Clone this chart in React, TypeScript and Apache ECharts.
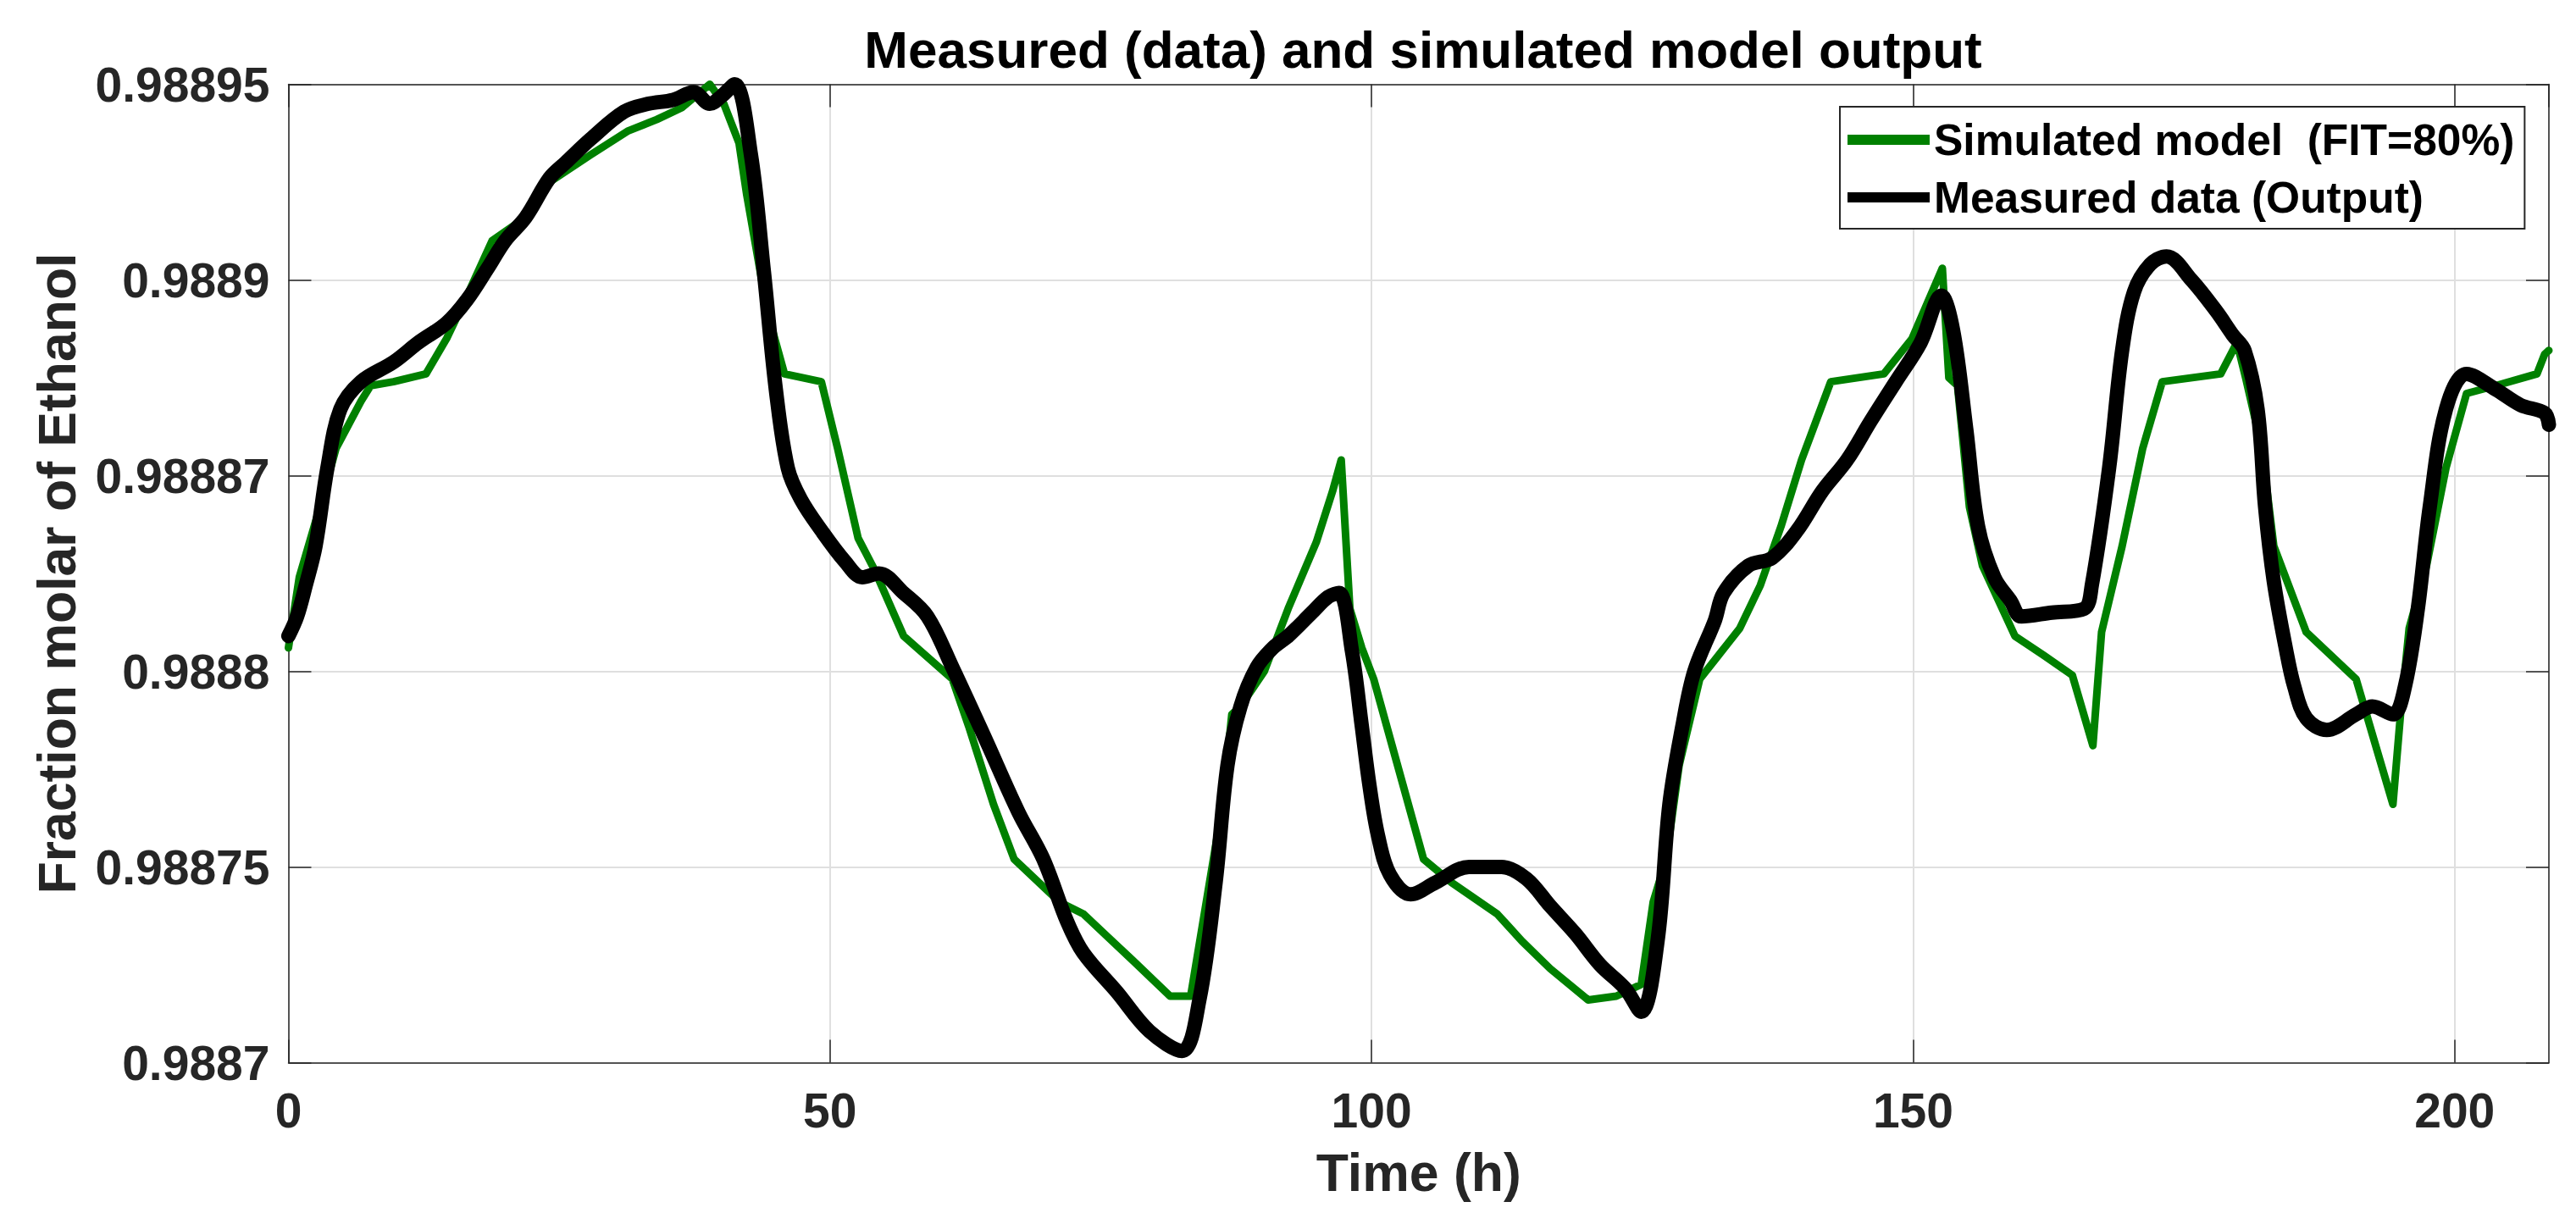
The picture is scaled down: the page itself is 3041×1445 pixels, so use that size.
import React, { useEffect, useRef } from "react";
import * as echarts from "echarts";

// Measured data (Output): time (h) and molar fraction
const measuredTime = [
  0, 0.8, 1.6, 2.5, 3.6, 4.8, 6.7, 9.7, 12.0, 14.6, 16.5, 18.4, 20.0, 21.9, 24.1, 25.6, 27.9, 31.0, 33.2,
  35.5, 37.4, 38.9, 40.0, 41.2, 42.7, 43.9, 45.0, 46.1, 47.3, 49.2, 51.4, 53.0, 54.5, 56.8, 59.0, 61.3,
  64.3, 67.4, 69.7, 71.9, 73.4, 76.5, 79.5, 82.5, 84.1, 85.6, 86.7, 87.9, 89.4, 90.9, 92.3, 94.5, 96.0,
  97.0, 98.2, 99.1, 99.8, 100.6, 101.7, 103.6, 105.9, 109.0, 112.0, 114.3, 116.5, 118.8, 121.1, 123.4,
  124.9, 126.4, 127.5, 128.7, 129.8, 131.7, 132.5, 134.8, 137.0, 139.3, 141.6, 143.9, 146.1, 148.4,
  150.7, 152.6, 153.7, 154.9, 156.0, 157.5, 159.0, 160.0, 162.8, 165.8, 166.5, 168.1, 169.3, 170.4,
  171.9, 173.4, 175.7, 178.0, 179.5, 180.6, 181.8, 182.5, 183.3, 184.4, 185.2, 186.3, 188.2, 190.9,
  192.4, 194.3, 195.4, 196.6, 197.7, 199.2, 201.1, 203.8, 206.1, 208.3, 208.7,
];
const measuredValue = [
  0.988809, 0.988814, 0.988822, 0.988832, 0.988852, 0.988867, 0.988874, 0.988879, 0.988884, 0.988889,
  0.988895, 0.988903, 0.98891, 0.988916, 0.988926, 0.98893, 0.988936, 0.988943, 0.988945, 0.988946,
  0.988948, 0.988945, 0.988947, 0.98895, 0.988932, 0.988902, 0.988872, 0.988852, 0.988844, 0.988836,
  0.988828, 0.988824, 0.988825, 0.98882, 0.988814, 0.988801, 0.988783, 0.988764, 0.988752, 0.988736,
  0.988728, 0.988718, 0.988708, 0.988703, 0.988716, 0.988746, 0.988776, 0.988791, 0.988801, 0.988806,
  0.988809, 0.988815, 0.988819, 0.98882, 0.988805, 0.988786, 0.988771, 0.988758, 0.988748, 0.988743,
  0.988746, 0.98875, 0.98875, 0.988747, 0.98874, 0.988733, 0.988725, 0.988719, 0.988713, 0.988731,
  0.988766, 0.988786, 0.9888, 0.988813, 0.98882, 0.988827, 0.988829, 0.988836, 0.988846, 0.988854,
  0.988864, 0.988874, 0.988884, 0.988896, 0.988887, 0.988862, 0.988837, 0.988824, 0.988818, 0.988814,
  0.988815, 0.988816, 0.988822, 0.988852, 0.988882, 0.988897, 0.988904, 0.988906, 0.9889, 0.988892,
  0.988886, 0.988882, 0.988867, 0.988842, 0.988823, 0.988806, 0.988796, 0.988788, 0.988785, 0.988789,
  0.988791, 0.988789, 0.988796, 0.988816, 0.988842, 0.988867, 0.988876, 0.988872, 0.988868, 0.988866,
  0.988863,
];

// Simulated model (FIT=80%)
const simulatedTime = [
  0, 1.0, 2.9, 4.4, 6.7, 7.6, 9.7, 12.7, 14.6, 16.5, 18.8, 21.9, 24.1, 27.9, 31.3, 34.0, 36.3, 38.9, 40.2,
  41.6, 42.3, 44.2, 45.8, 49.2, 50.7, 52.6, 54.1, 56.8, 61.3, 62.8, 65.1, 67.0, 71.2, 73.4, 75.7, 78.0,
  81.4, 83.3, 84.8, 86.3, 87.1, 87.9, 90.1, 92.3, 94.9, 96.4, 97.2, 98.0, 99.1, 100.2, 101.4, 102.9,
  104.8, 107.4, 111.6, 113.9, 116.5, 120.0, 122.6, 124.9, 126.0, 127.2, 128.4, 130.3, 134.0, 135.9,
  137.8, 139.7, 142.4, 147.3, 149.9, 152.7, 153.3, 154.1, 155.2, 156.4, 159.4, 162.1, 164.7, 166.6,
  167.4, 169.3, 171.2, 173.0, 178.4, 179.9, 180.7, 182.2, 183.3, 186.3, 188.6, 190.9, 194.3, 195.0,
  195.8, 197.4, 199.2, 201.1, 203.8, 207.6, 208.3, 208.7,
];
const simulatedValue = [
  0.988806, 0.988824, 0.988842, 0.988857, 0.988869, 0.988873, 0.988874, 0.988876, 0.988885, 0.988896,
  0.98891, 0.988916, 0.988925, 0.988932, 0.988938, 0.988941, 0.988944, 0.98895, 0.988945, 0.988935,
  0.988922, 0.988892, 0.988876, 0.988874, 0.988857, 0.988834, 0.988826, 0.988809, 0.988798, 0.988786,
  0.988766, 0.988752, 0.988741, 0.988738, 0.988732, 0.988726, 0.988717, 0.988717, 0.988742, 0.988767,
  0.988789, 0.988791, 0.9888, 0.988816, 0.988833, 0.988846, 0.988854, 0.988816, 0.988806, 0.988798,
  0.988786, 0.988771, 0.988752, 0.988746, 0.988738, 0.988731, 0.988724, 0.988716, 0.988717, 0.98872,
  0.988741, 0.988752, 0.988776, 0.988798, 0.988811, 0.988822, 0.988837, 0.988854, 0.988874, 0.988876,
  0.988885, 0.988903, 0.988875, 0.988873, 0.988842, 0.988827, 0.988809, 0.988804, 0.988799, 0.988781,
  0.98881, 0.988832, 0.988857, 0.988874, 0.988876, 0.988884, 0.988875, 0.988857, 0.988832, 0.98881,
  0.988804, 0.988798, 0.988766, 0.988789, 0.988811, 0.988827, 0.988852, 0.988871, 0.988873, 0.988876,
  0.988881, 0.988882,
];

const yTickLabels = ["0.9887", "0.98875", "0.9888", "0.98887", "0.9889", "0.98895"];
const xTickLabels = ["0", "50", "100", "150", "200"];

const seriesNames = ["Simulated model  (FIT=80%)", "Measured data (Output)"];
const titleText = "Measured (data) and simulated model output";
const xName = "Time (h)";
const yName = "Fraction molar of Ethanol";

const FONT = "'Liberation Sans', Arial, Helvetica, sans-serif";
const AX = "#262626";

export default function App() {
  const ref = useRef<HTMLDivElement>(null);
  useEffect(() => {
    if (!ref.current) return;
    const chart = echarts.init(ref.current, undefined, { renderer: "svg" });
    const yMin = 0.9887;
    const yMax = 0.98895;
    const yStep = 0.00005;
    const xMax = 208.7;
    const tickStyle = { color: AX, width: 1.5 };
    const option: any = {
      animation: false,
      backgroundColor: "#ffffff",
      title: {
        text: titleText,
        left: 1675,
        top: 22,
        textAlign: "center",
        textStyle: { fontFamily: FONT, fontWeight: "bold", fontSize: 62, color: "#000" },
      },
      legend: {
        orient: "vertical",
        left: 2172,
        top: 126,
        padding: [11, 12, 9, 9],
        itemWidth: 97,
        itemHeight: 12,
        itemGap: 12,
        itemTextGap: 8,
        backgroundColor: "#ffffff",
        borderColor: AX,
        borderWidth: 2,
        textStyle: { fontFamily: FONT, fontWeight: "bold", fontSize: 51.5, color: "#000", lineHeight: 56 },
        data: seriesNames.map((n) => ({ name: n, icon: "rect" })),
      },
      grid: {
        left: 340.5,
        right: 32,
        top: 99.5,
        bottom: 190.5,
        containLabel: false,
        outerBoundsMode: "none",
      },
      xAxis: [
        {
          type: "value",
          min: 0,
          max: xMax,
          interval: 50,
          position: "bottom",
          name: xName,
          nameLocation: "middle",
          nameGap: 98,
          nameTextStyle: { fontFamily: FONT, fontWeight: "bold", fontSize: 62.5, color: AX },
          axisLine: { show: true, onZero: false, lineStyle: tickStyle },
          axisTick: { show: true, inside: true, length: 27, lineStyle: tickStyle },
          axisLabel: {
            show: true,
            margin: 28,
            showMaxLabel: false,
            fontFamily: FONT,
            fontWeight: "bold",
            fontSize: 57,
            color: AX,
            formatter: (v: number) => {
              const i = Math.round(v / 50);
              return Math.abs(v - i * 50) < 1e-6 ? xTickLabels[i] ?? "" : "";
            },
          },
          splitLine: { show: true, lineStyle: { color: "#dfdfdf", width: 2 } },
        },
        {
          type: "value",
          min: 0,
          max: xMax,
          interval: 50,
          position: "top",
          axisLine: { show: true, onZero: false, lineStyle: tickStyle },
          axisTick: { show: true, inside: true, length: 27, lineStyle: tickStyle },
          axisLabel: { show: false },
          splitLine: { show: false },
        },
      ],
      yAxis: [
        {
          type: "value",
          min: yMin,
          max: yMax,
          interval: yStep,
          position: "left",
          name: yName,
          nameLocation: "middle",
          nameGap: 242,
          nameTextStyle: { fontFamily: FONT, fontWeight: "bold", fontSize: 62.5, color: AX },
          axisLine: { show: true, onZero: false, lineStyle: tickStyle },
          axisTick: { show: true, inside: true, length: 27, lineStyle: tickStyle },
          axisLabel: {
            show: true,
            margin: 22,
            fontFamily: FONT,
            fontWeight: "bold",
            fontSize: 57,
            color: AX,
            formatter: (v: number) => {
              const i = Math.round((v - yMin) / yStep);
              return yTickLabels[i] ?? "";
            },
          },
          splitLine: { show: true, lineStyle: { color: "#dfdfdf", width: 2 } },
        },
        {
          type: "value",
          min: yMin,
          max: yMax,
          interval: yStep,
          position: "right",
          axisLine: { show: true, onZero: false, lineStyle: tickStyle },
          axisTick: { show: true, inside: true, length: 27, lineStyle: tickStyle },
          axisLabel: { show: false },
          splitLine: { show: false },
        },
      ],
      series: [
        {
          name: seriesNames[0],
          type: "line",
          xAxisIndex: 0,
          yAxisIndex: 0,
          data: simulatedTime.map((t, i) => [t, simulatedValue[i]]),
          symbol: "none",
          showSymbol: false,
          clip: false,
          lineStyle: { color: "#008000", width: 9, cap: "round", join: "round" },
          itemStyle: { color: "#008000" },
          z: 3,
        },
        {
          name: seriesNames[1],
          type: "line",
          xAxisIndex: 0,
          yAxisIndex: 0,
          data: measuredTime.map((t, i) => [t, measuredValue[i]]),
          symbol: "none",
          showSymbol: false,
          smooth: 0.35,
          clip: false,
          lineStyle: { color: "#000000", width: 17, cap: "round", join: "round" },
          itemStyle: { color: "#000000" },
          z: 4,
        },
      ],
    };
    chart.setOption(option);
    return () => chart.dispose();
  }, []);
  return (
    <div
      ref={ref}
      style={{ position: "fixed", left: 0, top: 0, width: "3041px", height: "1445px", background: "#fff" }}
    />
  );
}
